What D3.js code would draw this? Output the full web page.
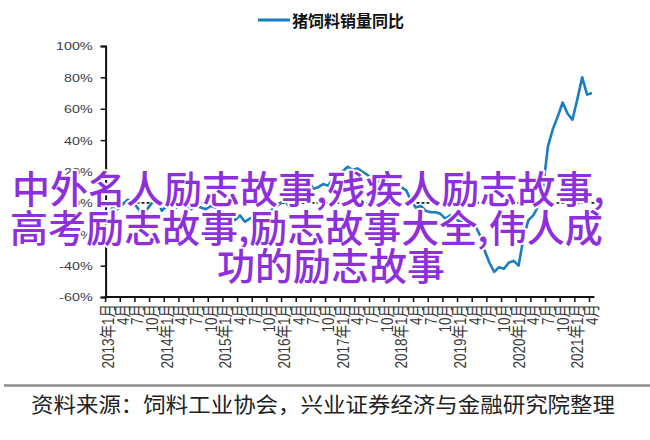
<!DOCTYPE html>
<html>
<head>
<meta charset="utf-8">
<script src="https://cdn.jsdelivr.net/npm/d3@7"></script>
<style>
  html, body { margin: 0; padding: 0; background: #fff; }
  svg { display: block; }
</style>
</head>
<body>
<svg id="chart" width="650" height="440"></svg>
<script>
// Monthly categories, Jan 2013 through Apr 2021
const startYear = 2013;
const categories = d3.range(100).map(i => {
  const y = startYear + Math.floor(i / 12), m = (i % 12) + 1;
  return `${y}-${String(m).padStart(2, "0")}`;
});

// 猪饲料销量同比 (%), one value per month
const feedYoY = [
  -8, -2, -4, -1, 2, 1, -3, -7, -4, 0, 3, -5,
  -2, 0, -3, 2, -1, -4, -2, -3, -4, -2, -3, -6,
  -8, -6, -11, -8, -12, -10, -8, -11, -9, -6, -3, -1,
  2, -2, 9, 4, 12, 14, 9, 10, 12, 11, 15, 17,
  20, 23, 21, 22, 20, 18, 15, 14, 13, 14, 12, 13,
  10, 8, 1, -3, -2, -5, -6, -6, -7, -10, -8, -10,
  -12, -13, -11, -14, -20, -30, -38, -44, -41, -42, -38, -37,
  -40, -22, -11, -8, -2, 10, 36, 47, 55, 64, 57, 53,
  66, 80, 69, 70
];

const yTicks = [-60, -40, -20, 0, 20, 40, 60, 80, 100];
const legendLabel = "猪饲料销量同比";
const sourceNote = "资料来源：饲料工业协会，兴业证券经济与金融研究院整理";
const overlayLines = [
  "中外名人励志故事,残疾人励志故事,",
  "高考励志故事,励志故事大全,伟人成",
  "功的励志故事"
];

const svg = d3.select("#chart");
const lineColor = "#1b7dc1";

const x = d3.scaleBand().domain(categories).range([105.6, 594.4]).padding(0);
const y = d3.scaleLinear().domain([-60, 100]).range([297, 46]);
const cx = c => x(c) + x.bandwidth() / 2;

// Legend
svg.append("line")
  .attr("x1", 258).attr("x2", 290).attr("y1", 20).attr("y2", 20)
  .attr("stroke", lineColor).attr("stroke-width", 3);
svg.append("text")
  .attr("x", 292).attr("y", 20)
  .attr("dominant-baseline", "central")
  .attr("font-family", "'Noto Sans CJK SC'")
  .attr("font-weight", 700)
  .attr("font-size", 16)
  .attr("fill", "#111")
  .text(legendLabel);

// Y axis
const yAxis = svg.append("g")
  .attr("transform", "translate(105.6,0)")
  .call(d3.axisLeft(y).tickValues(yTicks).tickSize(5).tickFormat(d => d + "%"));
yAxis.select(".domain").attr("stroke", "#111").attr("stroke-width", 2);
yAxis.selectAll(".tick line").attr("stroke", "#111").attr("stroke-width", 1.5);
yAxis.selectAll(".tick text").remove();
yAxis.selectAll(".tick").append("text")
  .attr("transform", "translate(-13,0) scale(1.3,1)")
  .attr("text-anchor", "end")
  .attr("dominant-baseline", "central")
  .attr("font-family", "'Liberation Sans'")
  .attr("font-size", 11)
  .attr("fill", "#3d3d4a")
  .text(d => d + "%");

// Zero reference line
svg.append("line")
  .attr("x1", 106.5).attr("x2", 598).attr("y1", y(0)).attr("y2", y(0))
  .attr("stroke", "#222").attr("stroke-width", 1.6)
  .attr("stroke-dasharray", "3,2");

// X axis: ticks every quarter at band edges
const quarterCats = categories.filter((c, i) => i % 3 === 0);
const xAxisG = svg.append("g");
xAxisG.append("line")
  .attr("x1", x.range()[0] - 1).attr("x2", x.range()[1]).attr("y1", 297).attr("y2", 297)
  .attr("stroke", "#111").attr("stroke-width", 2);
xAxisG.selectAll("line.tick").data(quarterCats).join("line")
  .attr("class", "tick")
  .attr("x1", d => x(d)).attr("x2", d => x(d))
  .attr("y1", 297).attr("y2", 302)
  .attr("stroke", "#111").attr("stroke-width", 1.5);
xAxisG.selectAll("text").data(quarterCats).join("text")
  .attr("transform", d => `translate(${cx(d)},304) scale(1.25,1) rotate(-90)`)
  .attr("text-anchor", "end")
  .attr("dominant-baseline", "central")
  .attr("font-family", "'Liberation Sans','Noto Sans CJK SC'")
  .attr("font-size", 13.5)
  .attr("fill", "#3a3a3a")
  .text(d => {
    const [yy, mm] = d.split("-").map(Number);
    return mm === 1 ? `${yy}年${mm}月` : `${mm}月`;
  });

// Series line
const line = d3.line()
  .x((d, i) => cx(categories[i]))
  .y(d => y(d));
svg.append("path")
  .datum(feedYoY)
  .attr("d", line)
  .attr("fill", "none")
  .attr("stroke", lineColor)
  .attr("stroke-width", 2.6)
  .attr("stroke-linejoin", "round");

// Footer rule and source note
svg.append("line")
  .attr("x1", 4).attr("x2", 650).attr("y1", 385.5).attr("y2", 385.5)
  .attr("stroke", "#8c8c8c").attr("stroke-width", 2.5);
svg.append("text")
  .attr("x", 31).attr("y", 403)
  .attr("dominant-baseline", "central")
  .attr("font-family", "'Noto Sans CJK SC'")
  .attr("font-size", 21)
  .attr("textLength", 584)
  .attr("lengthAdjust", "spacingAndGlyphs")
  .attr("fill", "#222")
  .text(sourceNote);

// Overlay caption
const overlayPos = [
  { x: 12, y: 186 },
  { x: 10, y: 225 },
  { x: 217, y: 263 }
];
svg.append("g").selectAll("text").data(overlayLines).join("text")
  .attr("x", (d, i) => overlayPos[i].x)
  .attr("y", (d, i) => overlayPos[i].y)
  .attr("dominant-baseline", "central")
  .attr("font-family", "'Noto Sans CJK SC'")
  .attr("font-size", 38)
  .attr("font-weight", 500)
  .attr("fill", "#8e2fdd")
  .attr("stroke", "#fff")
  .attr("stroke-width", 4)
  .attr("stroke-linejoin", "round")
  .attr("paint-order", "stroke")
  .text(d => d);
</script>
</body>
</html>
